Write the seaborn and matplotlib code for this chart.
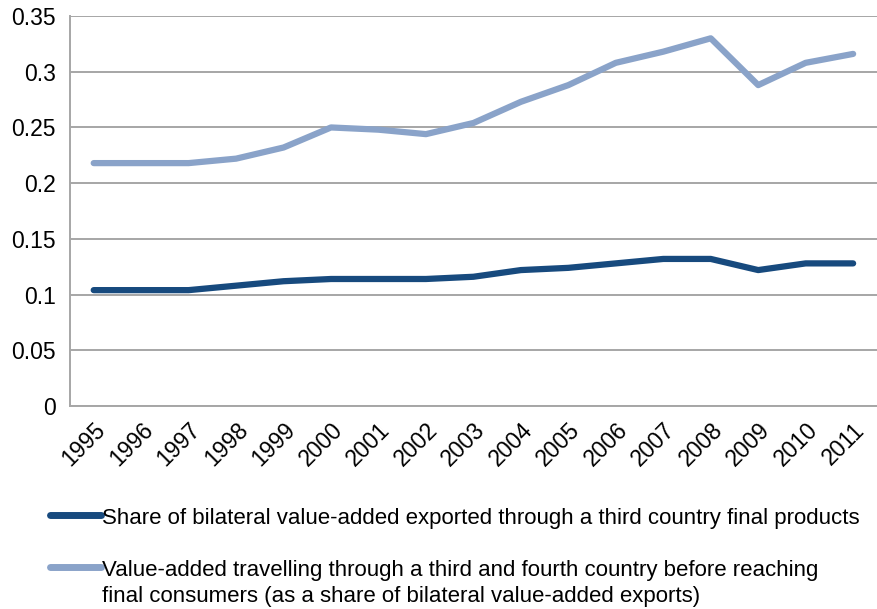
import numpy as np
import pandas as pd
import seaborn as sns
import matplotlib.pyplot as plt
from matplotlib.lines import Line2D

# DATA ------------------------------------------------------------------------
years = [str(y) for y in range(1995, 2012)]
third_country = [0.104, 0.104, 0.104, 0.108, 0.112, 0.114, 0.114, 0.114, 0.116,
                 0.122, 0.124, 0.128, 0.132, 0.132, 0.122, 0.128, 0.128]
third_fourth = [0.218, 0.218, 0.218, 0.222, 0.232, 0.250, 0.248, 0.244, 0.254,
                0.273, 0.288, 0.308, 0.318, 0.330, 0.288, 0.308, 0.316]
series_labels = [
    "Share of bilateral value-added exported through a third country final products",
    "Value-added travelling through a third and fourth country before reaching\n"
    "final consumers (as a share of bilateral value-added exports)",
]
y_ticks = [0, 0.05, 0.1, 0.15, 0.2, 0.25, 0.3, 0.35]
y_tick_labels = ["0", "0.05", "0.1", "0.15", "0.2", "0.25", "0.3", "0.35"]

colors = ["#174a7e", "#8aa3c9"]

# long-form frame for seaborn
df = pd.concat([
    pd.DataFrame({"pos": range(len(years)), "value": third_country, "series": series_labels[0]}),
    pd.DataFrame({"pos": range(len(years)), "value": third_fourth, "series": series_labels[1]}),
])

sns.set_style("white")
plt.rcParams["font.family"] = ["Liberation Sans", "DejaVu Sans"]
plt.rcParams["text.color"] = "black"
plt.rcParams["xtick.labelcolor"] = "black"
plt.rcParams["ytick.labelcolor"] = "black"

fig = plt.figure(figsize=(8.78, 6.09), dpi=100)
ax = fig.add_axes([0.0797, 0.3333, 0.919, 0.6404])

sns.lineplot(data=df, x="pos", y="value", hue="series", palette=colors,
             linewidth=4.5, legend=False, ax=ax, solid_capstyle="round")

# axes styling (Excel look)
ax.set_xlim(-0.5, len(years) - 0.5)
ax.set_ylim(0, 0.35)
ax.set_yticks(y_ticks)
ax.set_yticklabels(y_tick_labels, fontsize=16.5)
ax.yaxis.grid(True, color="#a6a6a6", linewidth=1.4)
ax.set_axisbelow(True)
ax.tick_params(axis="y", length=5, color="#a6a6a6", width=1.4, pad=5)

ax.set_xticks(range(len(years)))
ax.set_xticklabels(years, rotation=45, ha="right", rotation_mode="anchor", fontsize=16.5)
ax.tick_params(axis="x", which="major", length=0, pad=9)
ax.set_xticks(np.arange(-0.5, len(years)), minor=True)
ax.tick_params(axis="x", which="minor", length=5, color="#a6a6a6", width=1.4)

ax.set_xlabel("")
ax.set_ylabel("")
for side in ["top", "right"]:
    ax.spines[side].set_visible(False)
for side in ["left", "bottom"]:
    ax.spines[side].set_color("#a6a6a6")
    ax.spines[side].set_linewidth(1.4)

# legend below
handles = [Line2D([], [], color=c, linewidth=5, solid_capstyle="round") for c in colors]
leg = fig.legend(handles, series_labels, loc="upper left", bbox_to_anchor=(0.057, 0.1665),
                 frameon=False, fontsize=16, handlelength=2.3, handletextpad=0.05,
                 labelspacing=1.4, borderaxespad=0, borderpad=0)
for t in leg.get_texts():
    t.set_linespacing(1.3)
# put the handle next to the first line of a two-line label
for col in leg._legend_handle_box.get_children():
    for row in col.get_children():
        row.align = "top"

fig.savefig("out.png", dpi=100)
